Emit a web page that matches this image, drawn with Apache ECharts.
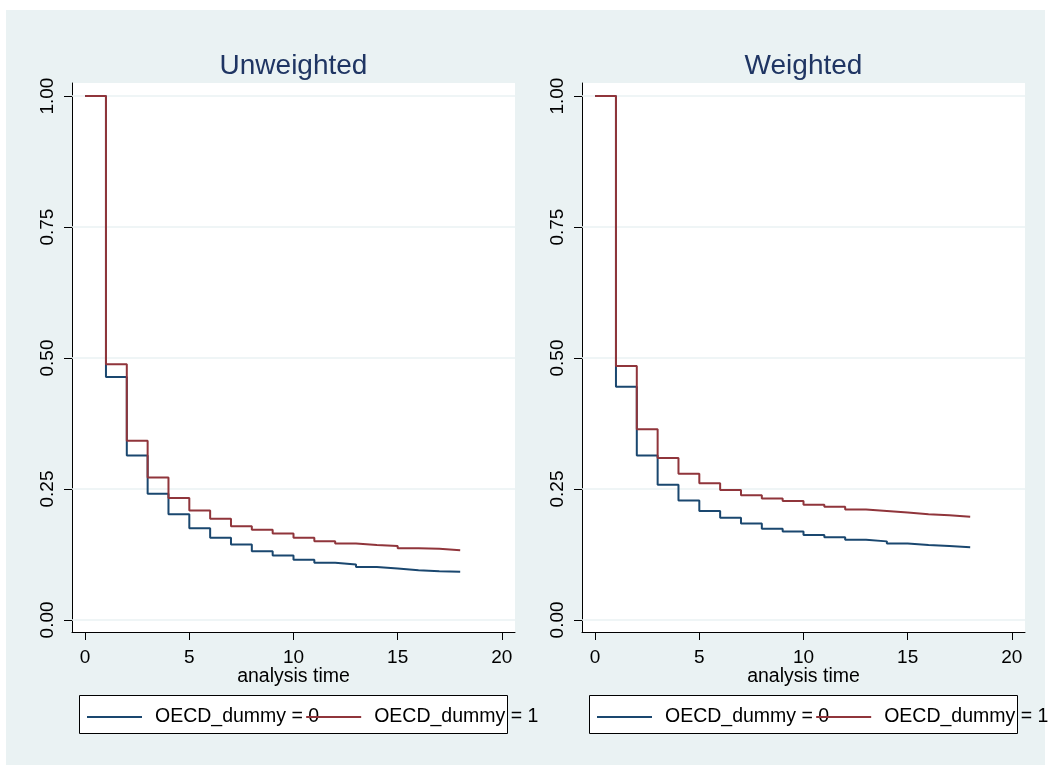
<!DOCTYPE html>
<html>
<head>
<meta charset="utf-8">
<script src="https://cdn.jsdelivr.net/npm/echarts@6/dist/echarts.min.js"></script>
<style>
  html, body { margin: 0; padding: 0; background: #ffffff; }
  #bg { position: absolute; left: 6px; top: 10px; width: 1039px; height: 755px; background: #EAF2F3; }
  #chart { position: absolute; left: 0; top: 0; width: 1051px; height: 772px; }
</style>
</head>
<body>
<div id="bg"></div>
<div id="chart"></div>
<script>
// ---- data ----
const panelTitles = ['Unweighted', 'Weighted'];
const seriesNames = ['OECD_dummy = 0', 'OECD_dummy = 1'];
const times = [0, 1, 2, 3, 4, 5, 6, 7, 8, 9, 10, 11, 12, 13, 14, 15, 16, 17, 18];
const unweightedOECD0 = [1.0, 0.464, 0.314, 0.241, 0.202, 0.175, 0.157, 0.144, 0.131, 0.123, 0.115, 0.109, 0.106, 0.101, 0.098, 0.095, 0.093, 0.092, 0.092];
const unweightedOECD1 = [1.0, 0.488, 0.342, 0.272, 0.233, 0.209, 0.193, 0.179, 0.172, 0.165, 0.157, 0.150, 0.146, 0.143, 0.141, 0.137, 0.136, 0.133, 0.133];
const weightedOECD0 = [1.0, 0.445, 0.314, 0.258, 0.228, 0.208, 0.195, 0.184, 0.174, 0.169, 0.162, 0.158, 0.153, 0.150, 0.146, 0.143, 0.141, 0.139, 0.139];
const weightedOECD1 = [1.0, 0.485, 0.364, 0.309, 0.279, 0.261, 0.248, 0.238, 0.232, 0.227, 0.220, 0.216, 0.211, 0.208, 0.205, 0.202, 0.200, 0.197, 0.197];
const xTicks = [0, 5, 10, 15, 20];
const yTicks = [0, 0.25, 0.5, 0.75, 1.0];
const xAxisName = 'analysis time';

// ---- style ----
const FONT = '"Liberation Sans", Arial, sans-serif';
const BLUE = '#1a476f';
const RED = '#90353b';
const GRID_LINE = '#EAF2F3';
const TITLE_COLOR = '#1f3563';
const gridLefts = [72, 582];
const gridTop = 83, gridW = 443, gridH = 549;

const pair = (vals) => times.map((t, i) => [t, vals[i]]);
const panelData = [[unweightedOECD0, unweightedOECD1], [weightedOECD0, weightedOECD1]];

const option = {
  animation: false,
  textStyle: { fontFamily: FONT },
  title: panelTitles.map((t, i) => ({
    text: t,
    left: gridLefts[i] + gridW / 2,
    textAlign: 'center',
    top: 52,
    padding: 0,
    textStyle: { fontFamily: FONT, fontSize: 28, fontWeight: 'normal', color: TITLE_COLOR }
  })),
  grid: gridLefts.map(l => ({
    left: l, top: gridTop, width: gridW, height: gridH,
    show: true, backgroundColor: '#ffffff', borderWidth: 0,
    containLabel: false
  })),
  xAxis: gridLefts.map((l, i) => ({
    type: 'value', gridIndex: i, min: -0.63, max: 20.63,
    name: xAxisName, nameLocation: 'middle', nameGap: 35, nameMoveOverlap: false,
    nameTextStyle: { fontFamily: FONT, fontSize: 19.5, color: '#000' },
    axisLine: { show: true, onZero: false, lineStyle: { color: '#000', width: 1 } },
    axisTick: { show: true, length: 8, customValues: xTicks, lineStyle: { color: '#000' } },
    axisLabel: { customValues: xTicks, margin: 16, fontFamily: FONT, fontSize: 19, color: '#000' },
    splitLine: { show: false }
  })),
  yAxis: gridLefts.map((l, i) => ({
    type: 'value', gridIndex: i, min: -0.023, max: 1.025,
    axisLine: { show: true, onZero: false, lineStyle: { color: '#000', width: 1 } },
    axisTick: { show: true, length: 8, customValues: yTicks, lineStyle: { color: '#000' } },
    axisLabel: { customValues: yTicks, rotate: 90, margin: 15, fontFamily: FONT, fontSize: 19, color: '#000',
      formatter: v => Number(v).toFixed(2) },
    splitLine: { show: false }
  })),
  legend: gridLefts.map((l, i) => ({
    left: l + 15, top: 707, width: 470, orient: 'horizontal', z: 10, padding: 0,
    data: seriesNames,
    icon: 'rect', itemWidth: 55, itemHeight: 2, itemGap: -13,
    selectedMode: false,
    textStyle: { fontFamily: FONT, fontSize: 19.5, color: '#000', padding: [0, 0, 0, 8] }
  })),
  graphic: gridLefts.map(l => ({
    type: 'rect', z: 5, silent: true,
    shape: { x: l + 7.5, y: 695.5, width: 428, height: 38 },
    style: { fill: '#ffffff', stroke: '#000', lineWidth: 1 }
  })),
  series: []
};

gridLefts.forEach((l, i) => {
  option.series.push({
    type: 'line', name: 'grid' + i, xAxisIndex: i, yAxisIndex: i, data: [], z: 1, silent: true,
    markLine: {
      z: 1, silent: true, symbol: ['none', 'none'], label: { show: false },
      lineStyle: { color: GRID_LINE, width: 1.5, type: 'solid' },
      data: yTicks.map(v => ({ yAxis: v }))
    }
  });
  [BLUE, RED].forEach((c, k) => {
    option.series.push({
      type: 'line', name: seriesNames[k], xAxisIndex: i, yAxisIndex: i,
      step: 'end', showSymbol: false, symbol: 'none', z: 3,
      color: c,
      lineStyle: { color: c, width: 2 },
      data: pair(panelData[i][k])
    });
  });
});

const chart = echarts.init(document.getElementById('chart'), null, { renderer: 'canvas' });
chart.setOption(option);
</script>
</body>
</html>
